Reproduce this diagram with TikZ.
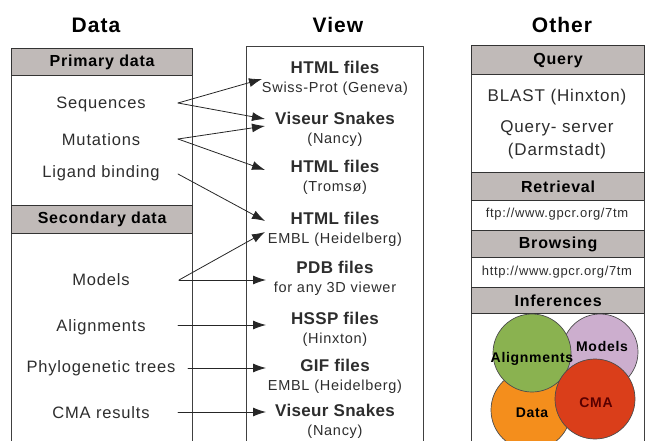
\documentclass[tikz,border=0pt]{standalone}
\usepackage{fontspec}
\setmainfont{Liberation Sans}
\newfontfamily\spaced{Liberation Sans}[LetterSpace=5]
\newfontfamily\tight{Liberation Sans}[LetterSpace=2]
\usetikzlibrary{arrows.meta}
\definecolor{hdrgray}{RGB}{192,186,184}
\definecolor{inkgray}{RGB}{45,45,45}
\definecolor{aligngreen}{RGB}{138,178,80}
\definecolor{modelmauve}{RGB}{204,174,206}
\definecolor{dataorange}{RGB}{244,142,28}
\definecolor{cmared}{RGB}{218,62,26}
\newcommand{\vhead}[1]{{\tight\fontsize{17}{19}\selectfont\bfseries #1}}
\begin{document}
\begin{tikzpicture}[x=1pt,y=-1pt,line cap=round,line join=round,
  frame/.style={draw=black!75,line width=0.9pt},
  hdr/.style={draw=black!80,line width=1.3pt,fill=hdrgray,inner sep=0pt,
    font=\spaced\fontsize{16}{19}\selectfont\bfseries,anchor=north west},
  title/.style={font=\spaced\fontsize{21}{24}\selectfont\bfseries},
  item/.style={font=\spaced\fontsize{16.5}{20}\selectfont,text=inkgray,align=center},
  view/.style={align=center,font=\spaced\fontsize{14.5}{19}\selectfont,text=inkgray},
  url/.style={font=\spaced\fontsize{13}{15}\selectfont,text=inkgray},
  link/.style={-{Latex[length=13pt,width=9pt]},line width=0.8pt,draw=black!85},
  blob/.style={draw=black!70,line width=0.7pt},
  blobtext/.style={font=\spaced\fontsize{14}{16}\selectfont\bfseries}]
  \useasboundingbox (0,0) rectangle (647,441);
  \clip (0,0) rectangle (647,441);
  % column titles
  \node[title] (tdata) at (96,25) {Data};
  \node[title] (tview) at (338,25) {View};
  \node[title] (tother) at (562,25) {Other};
  % data column
  \draw[frame] (11,48) rectangle (192,470);
  \node[hdr,minimum width=181pt,minimum height=27pt] (primary) at (11,48) {Primary data};
  \node[hdr,minimum width=181pt,minimum height=28pt] (secondary) at (11,205) {Secondary data};
  \node[item] (seq) at (101,104) {Sequences};
  \node[item] (mut) at (101,140) {Mutations};
  \node[item] (lig) at (101,173) {Ligand binding};
  \node[item] (mod) at (101,280) {Models};
  \node[item] (ali) at (101,327) {Alignments};
  \node[item] (phy) at (101,368) {Phylogenetic trees};
  \node[item] (cma) at (101,413) {CMA results};
  % view column
  \draw[frame] (246,46) rectangle (423,470);
  \node[view] (swiss) at (335,78) {\vhead{HTML files}\\Swiss-Prot (Geneva)};
  \node[view] (snakes) at (335,129) {\vhead{Viseur Snakes}\\(Nancy)};
  \node[view] (tromso) at (335,177.5) {\vhead{HTML files}\\(Tromsø)};
  \node[view] (embl) at (335,229) {\vhead{HTML files}\\EMBL (Heidelberg)};
  \node[view] (pdb) at (335,278.5) {\vhead{PDB files}\\for any 3D viewer};
  \node[view] (hssp) at (335,329) {\vhead{HSSP files}\\(Hinxton)};
  \node[view] (gif) at (335,376.5) {\vhead{GIF files}\\EMBL (Heidelberg)};
  \node[view] (snakesb) at (335,421.5) {\vhead{Viseur Snakes}\\(Nancy)};
  % connector ends
  \coordinate (seq-o) at (178,103);
  \coordinate (mut-o) at (178,139);
  \coordinate (lig-o) at (178,174);
  \coordinate (mod-o) at (179,280);
  \coordinate (ali-o) at (178,325);
  \coordinate (phy-o) at (188,368);
  \coordinate (cma-o) at (178,412);
  \coordinate (swiss-i) at (262,79);
  \coordinate (snakes-i) at (265,119);
  \coordinate (snakes-j) at (265,126);
  \coordinate (tromso-i) at (265,170);
  \coordinate (embl-i) at (265,221);
  \coordinate (embl-j) at (265,232);
  \coordinate (pdb-i) at (266,280);
  \coordinate (hssp-i) at (266,325);
  \coordinate (gif-i) at (266,368);
  \coordinate (snakesb-i) at (266,412);
  \draw[link] (seq-o) -- (swiss-i);
  \draw[link] (seq-o) -- (snakes-i);
  \draw[link] (mut-o) -- (snakes-j);
  \draw[link] (mut-o) -- (tromso-i);
  \draw[link] (lig-o) -- (embl-i);
  \draw[link] (mod-o) -- (embl-j);
  \draw[link] (mod-o) -- (pdb-i);
  \draw[link] (ali-o) -- (hssp-i);
  \draw[link] (phy-o) -- (gif-i);
  \draw[link] (cma-o) -- (snakesb-i);
  % other column
  \draw[frame] (471,45) rectangle (644,470);
  \node[hdr,minimum width=173pt,minimum height=29pt] (query) at (471,45) {Query};
  \node[item,font=\spaced\fontsize{17}{23}\selectfont] (blast) at (557,97) {BLAST (Hinxton)};
  \node[item,font=\spaced\fontsize{17}{23}\selectfont] (qserver) at (557,140) {Query- server\\(Darmstadt)};
  \node[hdr,minimum width=173pt,minimum height=28pt] (retrieval) at (471,172) {Retrieval};
  \node[url] (ftp) at (557,214) {ftp://www.gpcr.org/7tm};
  \node[hdr,minimum width=173pt,minimum height=27pt] (browsing) at (471,230) {Browsing};
  \node[url] (http) at (557,272) {http://www.gpcr.org/7tm};
  \node[hdr,minimum width=173pt,minimum height=26pt] (inferences) at (471,287) {Inferences};
  % inference circles
  \draw[blob,fill=dataorange] (531,410) circle[radius=40pt];
  \draw[blob,fill=modelmauve] (600,352) circle[radius=38pt];
  \draw[blob,fill=aligngreen] (532,353) circle[radius=39pt];
  \draw[blob,fill=cmared] (595,399) circle[radius=40pt];
  \node[blobtext] (lalign) at (532,359) {Alignments};
  \node[blobtext] (lmodel) at (602,346) {Models};
  \node[blobtext,text=red!35!black] (lcma) at (596,403) {CMA};
  \node[blobtext] (ldata) at (532,413) {Data};
\end{tikzpicture}
\end{document}
